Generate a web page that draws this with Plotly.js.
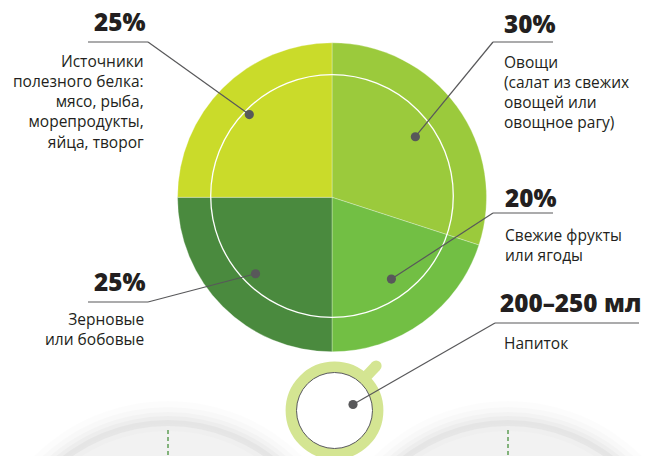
<!DOCTYPE html>
<html><head><meta charset="utf-8">
<script src="https://cdn.plot.ly/plotly-3.0.1.min.js"></script>
<style>html,body{margin:0;padding:0;background:#fff}#chart{width:650px;height:456px}</style>
</head><body><div id="chart"></div>
<script>
// ---- data ----
const categories = ["Овощи", "Свежие фрукты", "Зерновые", "Источники белка"];
const shares = [30, 20, 25, 25];
const shareLabels = ["30%", "20%", "25%", "25%"];
const descriptions = [
  "Овощи<br>(салат из свежих<br>овощей или<br>овощное рагу)",
  "Свежие фрукты<br>или ягоды",
  "Зерновые<br>или бобовые",
  "Источники<br>полезного белка:<br>мясо, рыба,<br>морепродукты,<br>яйца, творог"
];
const drinkLabel = "200–250 мл";
const drinkDesc = "Напиток";

// ---- layout config (positions / styles) ----
const W = 650, H = 456;
const pie = {cx: 332, cy: 197.3, r: 154.5};
const colors = ["#9bca3c", "#72bf44", "#4a8a3e", "#cadb2a"];
const dotFrac = [0.667, 0.654, 0.70, 0.757];
const callouts = [
  {ex: 493, ey: 42,  len: 60, side: "right", px: 503, pb: 32.3, db: 66.7},
  {ex: 493, ey: 213, len: 60, side: "right", px: 504, pb: 206,  db: 240},
  {ex: 148, ey: 302, len: 60, side: "left",  px: 147, pb: 290,  db: 324},
  {ex: 148, ey: 42,  len: 60, side: "left",  px: 147, pb: 30,   db: 67}
];
const cup = {cx: 334.5, cy: 410.5, rRing: 43.4, ringW: 11, rIn: 38, dot: [353, 404.5],
             ex: 495, ey: 323, len: 144, px: 499, pb: 310.5, db: 348.3};
const plates = [{cx: 168, cy: 592, r: 167}, {cx: 508, cy: 592, r: 167}];
const ink = "#58585a", textCol = "#231f20";
const pctSize = 24.3, descSize = 15.5;
const pctFont = "'Open Sans', Lato, sans-serif";
const descFont = "'Open Sans', Lato, sans-serif";

// ---- build ----
const shapes = [], annotations = [];
function circle(cx, cy, r, fill, lineCol, lineW) {
  shapes.push({type: "circle", xref: "x", yref: "y", x0: cx - r, x1: cx + r, y0: cy - r, y1: cy + r,
    fillcolor: fill, line: {color: lineCol || "rgba(0,0,0,0)", width: lineW || 0}});
}
function seg(x0, y0, x1, y1, col, w, dash) {
  shapes.push({type: "line", xref: "x", yref: "y", x0, y0, x1, y1, line: {color: col, width: w, dash: dash || "solid"}});
}
function pctText(txt, x, base, side) {
  annotations.push({text: txt, x: x, y: base - 0.35 * pctSize, xref: "x", yref: "y", showarrow: false,
    xanchor: side === "right" ? "left" : "right", yanchor: "middle", borderpad: 0,
    font: {family: pctFont, size: pctSize, color: textCol, weight: 800}});
}
function descText(txt, x, base, side) {
  const n = txt.split("<br>").length;
  annotations.push({text: txt, x: x, y: base + (n - 1) * 1.3 * descSize / 2 - 0.35 * descSize,
    xref: "x", yref: "y", showarrow: false, align: side === "right" ? "left" : "right",
    xanchor: side === "right" ? "left" : "right", yanchor: "middle", borderpad: 0,
    font: {family: descFont, size: descSize, color: textCol}});
}

// plates with soft shadow
plates.forEach(p => {
  [24, 18, 13, 9, 5].forEach((d, i) => circle(p.cx, p.cy, p.r + d, "rgba(0,0,0," + (0.01 + i * 0.005) + ")"));
  circle(p.cx, p.cy, p.r + 1.5, "#e6e6e6");
  circle(p.cx, p.cy, p.r - 1, "#efefef");
  circle(p.cx, p.cy, p.r - 6, "#f2f2f2");
  seg(p.cx, p.cy - p.r + 5, p.cx, H + 5, "#5f9e55", 1.5, "4px,3px");
});

// inner white circle on pie
circle(pie.cx, pie.cy - 1.3, 121.3, "rgba(0,0,0,0)", "#ffffff", 1.3);

// dots + leader lines from slice mid-angles
const total = shares.reduce((a, b) => a + b, 0);
let cum = 0;
shares.forEach((v, i) => {
  const mid = (cum + v / 2) / total * 2 * Math.PI; cum += v;
  const rr = pie.r * dotFrac[i];
  const dx = pie.cx + rr * Math.sin(mid), dy = pie.cy - rr * Math.cos(mid);
  const c = callouts[i];
  const endX = c.side === "right" ? c.ex + c.len : c.ex - c.len;
  seg(dx, dy, c.ex, c.ey, ink, 1.2);
  seg(c.ex, c.ey, endX, c.ey, ink, 1.2);
  circle(dx, dy, 4.6, ink);
  pctText(shareLabels[i], c.px, c.pb, c.side);
  descText(descriptions[i], c.side === "right" ? c.px : c.px - 2, c.db, c.side);
});

// cup (drink)
const ha = 47 * Math.PI / 180;
seg(cup.cx + 45 * Math.cos(ha), cup.cy - 45 * Math.sin(ha), cup.cx + 61 * Math.cos(ha), cup.cy - 61 * Math.sin(ha), "#d4e592", 11);
circle(cup.cx + 61 * Math.cos(ha), cup.cy - 61 * Math.sin(ha), 5.5, "#d4e592");
circle(cup.cx, cup.cy, cup.rRing, "#ffffff", "#d4e592", cup.ringW);
circle(cup.cx, cup.cy, cup.rIn, "#ffffff", ink, 1);
seg(cup.dot[0], cup.dot[1], cup.ex, cup.ey, ink, 1.2);
seg(cup.ex, cup.ey, cup.ex + cup.len, cup.ey, ink, 1.2);
circle(cup.dot[0], cup.dot[1], 4.6, ink);
pctText(drinkLabel, cup.px, cup.pb, "right");
descText(drinkDesc, cup.px + 4, cup.db, "right");

const trace = {
  type: "pie", values: shares, labels: categories, sort: false, direction: "clockwise", rotation: 0,
  textinfo: "none", hoverinfo: "none", showlegend: false,
  marker: {colors: colors, line: {color: "rgba(255,255,255,0.5)", width: 0.6}},
  domain: {x: [(pie.cx - pie.r) / W, (pie.cx + pie.r) / W], y: [(H - pie.cy - pie.r) / H, (H - pie.cy + pie.r) / H]}
};
const anchor = {type: "scatter", x: [0, W], y: [0, H], mode: "markers", marker: {opacity: 0}, hoverinfo: "none", showlegend: false};

const layout = {
  width: W, height: H, margin: {l: 0, r: 0, t: 0, b: 0},
  paper_bgcolor: "#ffffff", plot_bgcolor: "rgba(0,0,0,0)", showlegend: false,
  xaxis: {range: [0, W], visible: false, fixedrange: true},
  yaxis: {range: [H, 0], visible: false, fixedrange: true},
  shapes: shapes, annotations: annotations
};
Plotly.newPlot("chart", [anchor, trace], layout, {staticPlot: true, displayModeBar: false});
</script></body></html>
